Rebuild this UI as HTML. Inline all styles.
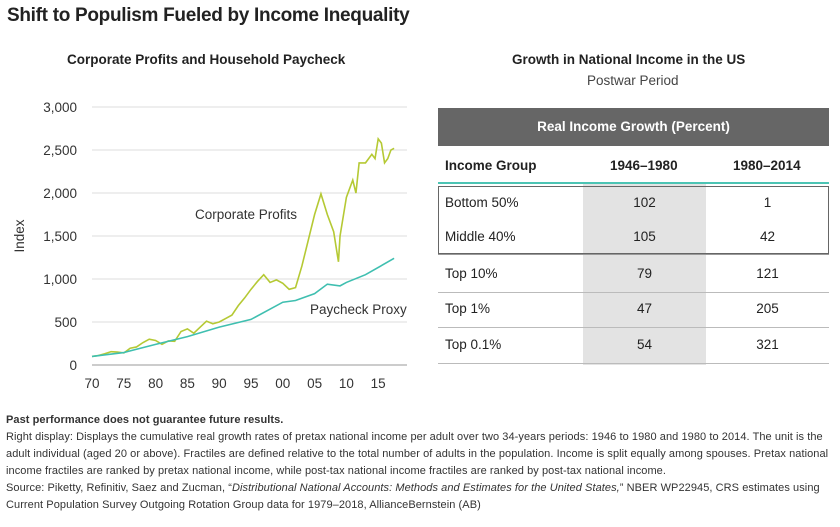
<!DOCTYPE html>
<html><head><meta charset="utf-8"><style>
body{margin:0;width:840px;height:527px;background:#fff;font-family:"Liberation Sans",sans-serif;color:#222;position:relative;overflow:hidden}
.a{position:absolute;white-space:nowrap}
</style></head><body>
<div class="a" style="left:7px;top:5px;font-size:19px;font-weight:bold;letter-spacing:-0.3px">Shift to Populism Fueled by Income Inequality</div>
<div class="a" style="left:67px;top:52px;font-size:13.5px;font-weight:bold">Corporate Profits and Household Paycheck</div>
<div class="a" style="left:512px;top:52px;font-size:13.5px;font-weight:bold">Growth in National Income in the US</div>
<div class="a" style="left:587px;top:73px;font-size:13.5px;color:#444">Postwar Period</div>

<svg class="a" style="left:0;top:0" width="430" height="400" id="chart"></svg>

<div class="a" style="left:438px;top:108px;width:391px;height:38px;background:#666;color:#fff;font-weight:bold;font-size:13.5px;text-align:center;line-height:38px">Real Income Growth (Percent)</div>
<div class="a" style="left:583px;top:184px;width:123px;height:181px;background:#e3e3e3"></div>
<div class="a" style="left:445px;top:158px;font-size:13.5px;font-weight:bold">Income Group</div>
<div class="a" style="left:610px;top:158px;font-size:13.5px;font-weight:bold">1946–1980</div>
<div class="a" style="left:733px;top:158px;font-size:13.5px;font-weight:bold">1980–2014</div>
<div class="a" style="left:438px;top:182px;width:391px;height:2px;background:#4cc4b4"></div>
<div class="a" style="left:438px;top:186px;width:389px;height:66px;border:1.5px solid #666"></div>
<div id="rows"></div>

<div class="a" style="left:6px;top:412px;font-size:11px;line-height:17px;color:#333;white-space:normal;width:832px;letter-spacing:0.07px">
<b>Past performance does not guarantee future results.</b><br>
Right display: Displays the cumulative real growth rates of pretax national income per adult over two 34-years periods: 1946 to 1980 and 1980 to 2014. The unit is the adult individual (aged 20 or above). Fractiles are defined relative to the total number of adults in the population. Income is split equally among spouses. Pretax national income fractiles are ranked by pretax national income, while post-tax national income fractiles are ranked by post-tax national income.<br>
Source: Piketty, Refinitiv, Saez and Zucman, “<i>Distributional National Accounts: Methods and Estimates for the United States,</i>” NBER WP22945, CRS estimates using Current Population Survey Outgoing Rotation Group data for 1979–2018, AllianceBernstein (AB)</div>

<script>
const groups=["Bottom 50%","Middle 40%","Top 10%","Top 1%","Top 0.1%"];
const early=[102,105,79,47,54];
const late=[1,42,121,205,321];
const rowTops=[186,220,257,292,328];
const rows=document.getElementById('rows');
groups.forEach((g,i)=>{
 const t=rowTops[i];
 const mk=(txt,l,w,al)=>{const d=document.createElement('div');d.className='a';d.textContent=txt;d.style.cssText=`left:${l}px;top:${t+9}px;width:${w}px;text-align:${al};font-size:13.5px;color:#222`;return d;};
 const a=mk(g,445,130,'left');
 
 
 const b=mk(early[i],583,123,'center');
 
 
 const c=mk(late[i],706,123,'center');
 
 
 rows.append(a,b,c);
 if(i>=2){const r=document.createElement('div');r.className='a';r.style.cssText=`left:438px;top:${t+35}px;width:391px;height:1px;background:#bbb`;
 
 
 rows.append(r);}
});
const r0=document.createElement('div');r0.className='a';r0.style.cssText='left:438px;top:254px;width:391px;height:1px;background:#999';


rows.append(r0);

const yTicks=[0,500,1000,1500,2000,2500,3000];
const xTicks=[1970,1975,1980,1985,1990,1995,2000,2005,2010,2015];
const profitYears=[1970,1971,1972,1973,1974,1975,1976,1977,1978,1979,1980,1981,1982,1983,1984,1985,1986,1987,1988,1989,1990,1991,1992,1993,1994,1995,1996,1997,1998,1999,2000,2001,2002,2003,2004,2005,2006,2007,2008,2008.75,2009,2010,2011,2011.5,2012,2013,2014,2014.5,2015,2015.5,2016,2016.5,2017,2017.5];
const profits=[100,110,130,155,150,140,195,210,260,300,285,240,280,275,390,420,370,440,510,480,500,540,580,690,780,880,970,1050,960,990,950,880,900,1150,1450,1750,1990,1750,1550,1200,1500,1950,2150,2000,2350,2350,2450,2400,2630,2580,2350,2400,2500,2520];
const payYears=[1970,1975,1980,1985,1990,1995,2000,2002,2005,2007,2009,2010,2013,2017.5];
const paycheck=[100,145,240,330,440,530,730,750,830,940,920,960,1050,1240];
const X=y=>92+(y-1970)*6.36, Y=v=>365-v*258/3000;
const svg=document.getElementById('chart'),NS='http://www.w3.org/2000/svg';
function el(t,at,txt){const e=document.createElementNS(NS,t);for(const k in at)e.setAttribute(k,at[k]);if(txt!=null)e.textContent=txt;svg.appendChild(e);return e;}
yTicks.forEach(v=>{
 const l=el('line',{x1:92,x2:407,y1:Y(v),y2:Y(v),stroke:v?'#ddd':'#999','stroke-width':1});
 
 
 const t=el('text',{x:77,y:Y(v)+5,'text-anchor':'end','font-size':13.5,fill:'#333'},v.toLocaleString('en-US'));
 
 
});
xTicks.forEach(y=>{
 const t=el('text',{x:X(y),y:388,'text-anchor':'middle','font-size':13.5,fill:'#333'},String(y).slice(2));
 
 
});
const yt=el('text',{transform:'translate(24,236) rotate(-90)','text-anchor':'middle','font-size':13.5,fill:'#333'},'Index');


const p1=el('polyline',{points:profitYears.map((y,i)=>X(y)+','+Y(profits[i])).join(' '),fill:'none',stroke:'#b5c934','stroke-width':1.6});


const p2=el('polyline',{points:payYears.map((y,i)=>X(y)+','+Y(paycheck[i])).join(' '),fill:'none',stroke:'#3fbfb0','stroke-width':1.6});


const l1=el('text',{x:195,y:219,'font-size':13.5,fill:'#333'},'Corporate Profits');


const l2=el('text',{x:310,y:314,'font-size':13.5,fill:'#333'},'Paycheck Proxy');


</script>
</body></html>
